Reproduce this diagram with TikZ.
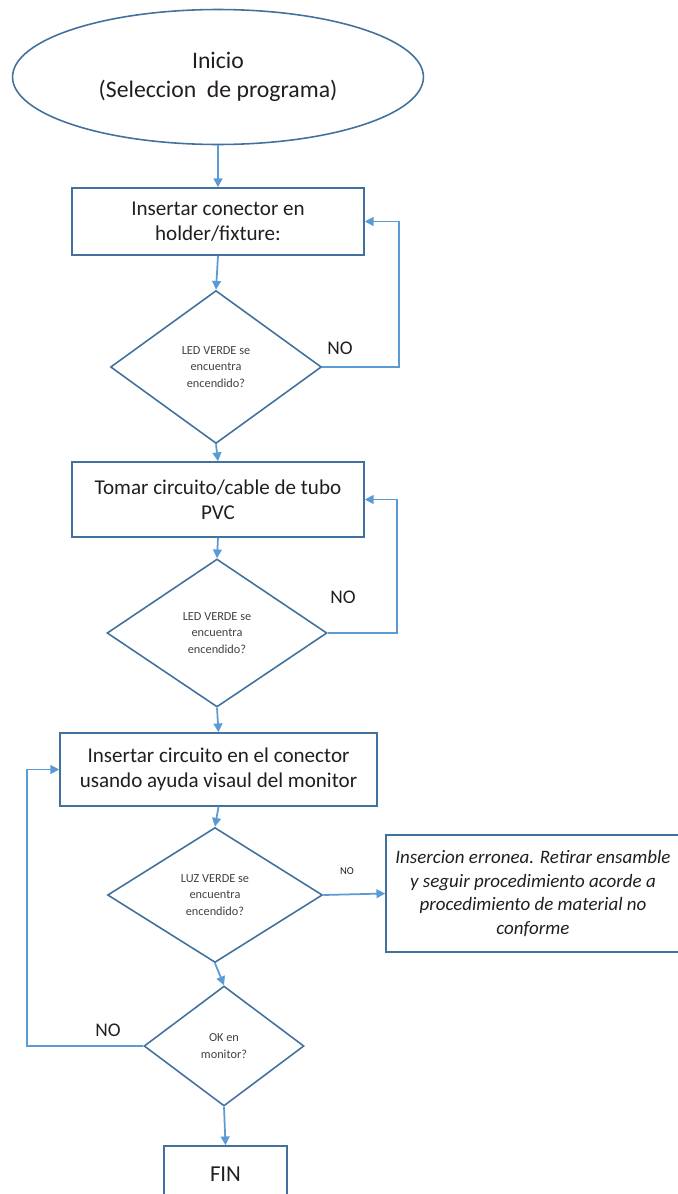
\documentclass[tikz,border=0pt]{standalone}
\usepackage{fontspec}
\setmainfont{Carlito}
\usetikzlibrary{shapes.geometric,arrows.meta}

\definecolor{edgeblue}{RGB}{65,113,156}
\definecolor{flowblue}{RGB}{91,155,213}
\definecolor{inktext}{RGB}{35,30,30}

\begin{document}
\begin{tikzpicture}[
    x=0.02cm, y=-0.02cm,
    startnode/.style={ellipse, draw=edgeblue, line width=0.9pt, align=center, text=inktext,
        minimum width=8.22cm, minimum height=2.7cm, font=\fontsize{13.5}{16.5}\selectfont},
    stepbox/.style={rectangle, draw=edgeblue, line width=0.9pt, align=center, text=inktext,
        font=\fontsize{12}{14}\selectfont},
    decision/.style={diamond, draw=edgeblue, line width=0.9pt, inner sep=0pt, align=center,
        text=inktext!85, font=\fontsize{7}{9.5}\selectfont},
    label/.style={text=inktext, font=\fontsize{11}{13}\selectfont},
    arrow/.style={-{Triangle[width=5pt,length=5pt]}, line width=1pt, flowblue}
]
\useasboundingbox (0,0) rectangle (677,1194);

% start
\node[startnode] (inicio) at (218,77) {Inicio\\(Seleccion\ \ de programa)};

% first step and its check
\node[stepbox, minimum width=5.84cm, minimum height=1.34cm] (conector) at (218,221.5)
    {Insertar conector en\\holder/fixture:};
\node[decision, minimum width=4.22cm, minimum height=3.06cm] (led1) at (216,367)
    {LED VERDE se\\encuentra\\encendido?};
\draw[arrow] (inicio.south) -- (conector.north);
\draw[arrow] (conector.south) -- (led1.north);
\draw[arrow] (led1.east) -- ++(77,0) |- (conector.east);
\node[label] (no1) at (340,348) {NO};

% second step and its check
\node[stepbox, minimum width=5.84cm, minimum height=1.5cm] (tomar) at (218,499.5)
    {Tomar circuito/cable de tubo\\PVC};
\node[decision, minimum width=4.4cm, minimum height=2.96cm] (led2) at (217,633)
    {LED VERDE se\\encuentra\\encendido?};
\draw[arrow] (led1.south) -- (tomar.north);
\draw[arrow] (tomar.south) -- (led2.north);
\draw[arrow] (led2.east) -- ++(69,0) |- (tomar.east);
\node[label] (no2) at (343,597) {NO};

% insertion with two checks
\node[stepbox, minimum width=6.34cm, minimum height=1.46cm] (insertar) at (218.5,769.5)
    {Insertar circuito en el conector\\usando ayuda visaul del monitor};
\node[decision, minimum width=4.3cm, minimum height=2.7cm] (luz) at (215,895)
    {LUZ VERDE se\\encuentra\\encendido?};
\node[stepbox, minimum width=5.88cm, minimum height=2.34cm,
    font=\itshape\fontsize{10.8}{13.4}\selectfont] (erronea) at (533,893.5)
    {Insercion erronea. Retirar ensamble\\y seguir procedimiento acorde a\\procedimiento de material no\\conforme};
\node[decision, minimum width=3.2cm, minimum height=2.4cm] (ok) at (224,1046)
    {OK en\\monitor?};
\draw[arrow] (led2.south) -- (insertar.north);
\draw[arrow] (insertar.south) -- (luz.north);
\draw[arrow] (luz.east) -- (erronea.west);
\node[label, font=\fontsize{6}{7}\selectfont] (no3) at (347,871) {NO};
\draw[arrow] (luz.south) -- (ok.north);
\draw[arrow] (ok.west) -- ++(-116,0) |- (insertar.west);
\node[label] (no4) at (108,1030) {NO};

% end
\node[stepbox, minimum width=2.46cm, minimum height=1.12cm, font=\fontsize{13}{15}\selectfont] (fin) at (225.5,1174) {FIN};
\draw[arrow] (ok.south) -- (fin.north);

\end{tikzpicture}
\end{document}
